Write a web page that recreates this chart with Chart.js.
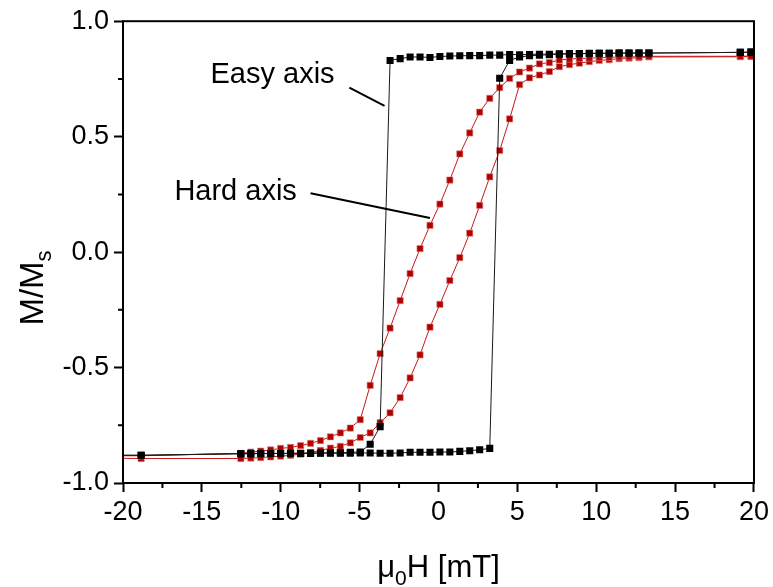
<!DOCTYPE html>
<html>
<head>
<meta charset="utf-8">
<script src="https://cdn.jsdelivr.net/npm/chart.js@4.4.1/dist/chart.umd.min.js"></script>
<style>
  html, body { margin: 0; padding: 0; background: #fff; }
  #wrap { width: 773px; height: 587px; }
</style>
</head>
<body>
<div id="wrap"><canvas id="loopChart" width="773" height="587"></canvas></div>
<script>
// field steps (mT)
const fieldH = [-20.3, -18.85,
  -12.53, -11.90, -11.27, -10.64, -10.01, -9.38, -8.74, -8.11, -7.48, -6.85,
  -6.22, -5.59, -4.96, -4.33, -3.70, -3.07, -2.43, -1.80, -1.17, -0.54,
  0.09, 0.72, 1.35, 1.98, 2.61, 3.25, 3.88, 4.51, 5.14, 5.77,
  6.40, 7.03, 7.66, 8.30, 8.93, 9.56, 10.19, 10.82, 11.45, 12.08,
  12.71, 13.34,
  19.13, 19.81, 20.3];

// easy axis, branch coming down from +20
const easyDown = [-0.880, -0.880,
  -0.873, -0.873, -0.872, -0.872, -0.872, -0.871, -0.871, -0.870, -0.870, -0.869,
  -0.869, -0.867, -0.866, -0.832, -0.756, 0.830, 0.838, 0.845, 0.845, 0.843,
  0.847, 0.849, 0.850, 0.851, 0.851, 0.853, 0.853, 0.856, 0.855, 0.856,
  0.857, 0.857, 0.859, 0.860, 0.860, 0.861, 0.861, 0.861, 0.862, 0.862,
  0.862, 0.862,
  0.865, 0.866, 0.866];

// easy axis, branch going up from -20
const easyUp = [-0.880, -0.880,
  -0.873, -0.873, -0.873, -0.872, -0.872, -0.872, -0.872, -0.872, -0.871, -0.871,
  -0.871, -0.871, -0.870, -0.870, -0.871, -0.871, -0.870, -0.867, -0.867, -0.867,
  -0.866, -0.866, -0.863, -0.860, -0.856, -0.850, 0.753, 0.830, 0.845, 0.850,
  0.853, 0.855, 0.857, 0.858, 0.859, 0.860, 0.861, 0.861, 0.862, 0.862,
  0.862, 0.862,
  0.865, 0.866, 0.866];

// hard axis, branch coming down
const hardDown = [-0.882, -0.882,
  -0.872, -0.866, -0.862, -0.857, -0.850, -0.846, -0.838, -0.828, -0.816, -0.800,
  -0.783, -0.762, -0.726, -0.577, -0.440, -0.329, -0.210, -0.093, 0.015, 0.116,
  0.208, 0.312, 0.425, 0.516, 0.606, 0.666, 0.712, 0.752, 0.780, 0.797,
  0.815, 0.821, 0.832, 0.836, 0.839, 0.840, 0.842, 0.843, 0.845, 0.845,
  0.846, 0.848,
  0.848, 0.849, 0.849];

// hard axis, branch going up
const hardUp = [-0.893, -0.894,
  -0.894, -0.892, -0.890, -0.887, -0.884, -0.880, -0.875, -0.868, -0.859, -0.849,
  -0.841, -0.826, -0.803, -0.783, -0.739, -0.696, -0.630, -0.545, -0.445, -0.325,
  -0.226, -0.123, -0.024, 0.082, 0.202, 0.326, 0.440, 0.577, 0.725, 0.755,
  0.767, 0.782, 0.803, 0.812, 0.818, 0.825, 0.830, 0.833, 0.838, 0.840,
  0.842, 0.845,
  0.846, 0.847, 0.847];

const xTicks = [-20, -15, -10, -5, 0, 5, 10, 15, 20];
const yTicks = [-1.0, -0.5, 0.0, 0.5, 1.0];

const FONT = '"Liberation Sans", Arial, sans-serif';

function pts(m) {
  return fieldH.map((h, i) => ({ x: h, y: m[i] }));
}

function blackSet(m) {
  return {
    data: pts(m),
    showLine: true,
    borderColor: '#1a1a1a',
    borderWidth: 1,
    pointStyle: 'rect',
    pointRadius: 5,
    pointBackgroundColor: '#000',
    pointBorderColor: '#000',
    pointBorderWidth: 0
  };
}

function redSet(m) {
  return {
    data: pts(m),
    showLine: true,
    borderColor: '#c81818',
    borderWidth: 1,
    pointStyle: 'rect',
    pointRadius: 4.4,
    pointBackgroundColor: '#b00000',
    pointBorderColor: '#e08080',
    pointBorderWidth: 0.6
  };
}

// frame, minor ticks, axis titles and the two labels
const extras = {
  id: 'extras',
  afterDraw(chart) {
    const ctx = chart.ctx;
    const a = chart.chartArea;
    const xs = chart.scales.x, ys = chart.scales.y;
    ctx.save();
    ctx.strokeStyle = '#000';
    ctx.lineWidth = 2;
    ctx.strokeRect(a.left, a.top, a.right - a.left, a.bottom - a.top);

    // minor ticks
    ctx.beginPath();
    for (let i = 0; i < xTicks.length - 1; i++) {
      const px = xs.getPixelForValue((xTicks[i] + xTicks[i + 1]) / 2);
      ctx.moveTo(px, a.bottom);
      ctx.lineTo(px, a.bottom + 5);
    }
    for (let i = 0; i < yTicks.length - 1; i++) {
      const py = ys.getPixelForValue((yTicks[i] + yTicks[i + 1]) / 2);
      ctx.moveTo(a.left, py);
      ctx.lineTo(a.left - 5, py);
    }
    ctx.stroke();

    ctx.fillStyle = '#000';
    ctx.textBaseline = 'alphabetic';
    ctx.textAlign = 'left';

    // x title: mu_0 H [mT]
    const big = '31px ' + FONT, small = '21px ' + FONT;
    ctx.font = big;
    const w1 = ctx.measureText('\u03bc').width;
    const w3 = ctx.measureText('H [mT]').width;
    ctx.font = small;
    const w2 = ctx.measureText('0').width;
    let x0 = (a.left + a.right) / 2 - (w1 + w2 + w3) / 2;
    const yb = 577;
    ctx.font = big;
    ctx.fillText('\u03bc', x0, yb);
    ctx.font = small;
    ctx.fillText('0', x0 + w1, yb + 8);
    ctx.font = big;
    ctx.fillText('H [mT]', x0 + w1 + w2, yb);

    // y title: M/M_s
    ctx.save();
    ctx.translate(43, 288);
    ctx.rotate(-Math.PI / 2);
    const ybig = '33px ' + FONT, ysmall = '22px ' + FONT;
    ctx.font = ybig;
    const v1 = ctx.measureText('M/M').width;
    ctx.font = ysmall;
    const v2 = ctx.measureText('s').width;
    const s0 = -(v1 + v2) / 2;
    ctx.font = ybig;
    ctx.fillText('M/M', s0, 0);
    ctx.font = ysmall;
    ctx.fillText('s', s0 + v1, 8);
    ctx.restore();

    // labels with pointer lines
    ctx.font = '29px ' + FONT;
    ctx.textAlign = 'center';
    ctx.fillText('Easy axis', xs.getPixelForValue(-10.52), ys.getPixelForValue(0.734));
    ctx.fillText('Hard axis', xs.getPixelForValue(-12.86), ys.getPixelForValue(0.226));
    ctx.lineWidth = 2;
    ctx.beginPath();
    ctx.moveTo(xs.getPixelForValue(-5.65), ys.getPixelForValue(0.712));
    ctx.lineTo(xs.getPixelForValue(-3.42), ys.getPixelForValue(0.633));
    ctx.moveTo(xs.getPixelForValue(-8.11), ys.getPixelForValue(0.255));
    ctx.lineTo(xs.getPixelForValue(-0.54), ys.getPixelForValue(0.148));
    ctx.stroke();
    ctx.restore();
  }
};

const ctx = document.getElementById('loopChart').getContext('2d');
const loopChart = new Chart(ctx, {
  type: 'scatter',
  data: {
    datasets: [
      blackSet(easyDown),
      blackSet(easyUp),
      redSet(hardDown),
      redSet(hardUp)
    ]
  },
  options: {
    responsive: false,
    animation: false,
    layout: { padding: { top: 16, right: 16, left: 0, bottom: 0 } },
    plugins: {
      legend: { display: false },
      tooltip: { enabled: false }
    },
    scales: {
      x: {
        min: -20,
        max: 20,
        afterFit: (s) => { s.height = 104; },
        afterBuildTicks: (s) => { s.ticks = xTicks.map(v => ({ value: v })); },
        border: { display: false },
        grid: { drawOnChartArea: false, tickLength: 9, tickWidth: 2, tickColor: '#000' },
        ticks: {
          color: '#000',
          padding: 4,
          maxRotation: 0,
          font: { family: FONT, size: 27 },
          callback: (v) => String(v)
        }
      },
      y: {
        min: -1,
        max: 1,
        afterFit: (s) => { s.width = 123; },
        afterBuildTicks: (s) => { s.ticks = yTicks.map(v => ({ value: v })); },
        border: { display: false },
        grid: { drawOnChartArea: false, tickLength: 9, tickWidth: 2, tickColor: '#000' },
        ticks: {
          color: '#000',
          padding: 5,
          font: { family: FONT, size: 27 },
          callback: (v) => Number(v).toFixed(1)
        }
      }
    }
  },
  plugins: [extras]
});
</script>
</body>
</html>
